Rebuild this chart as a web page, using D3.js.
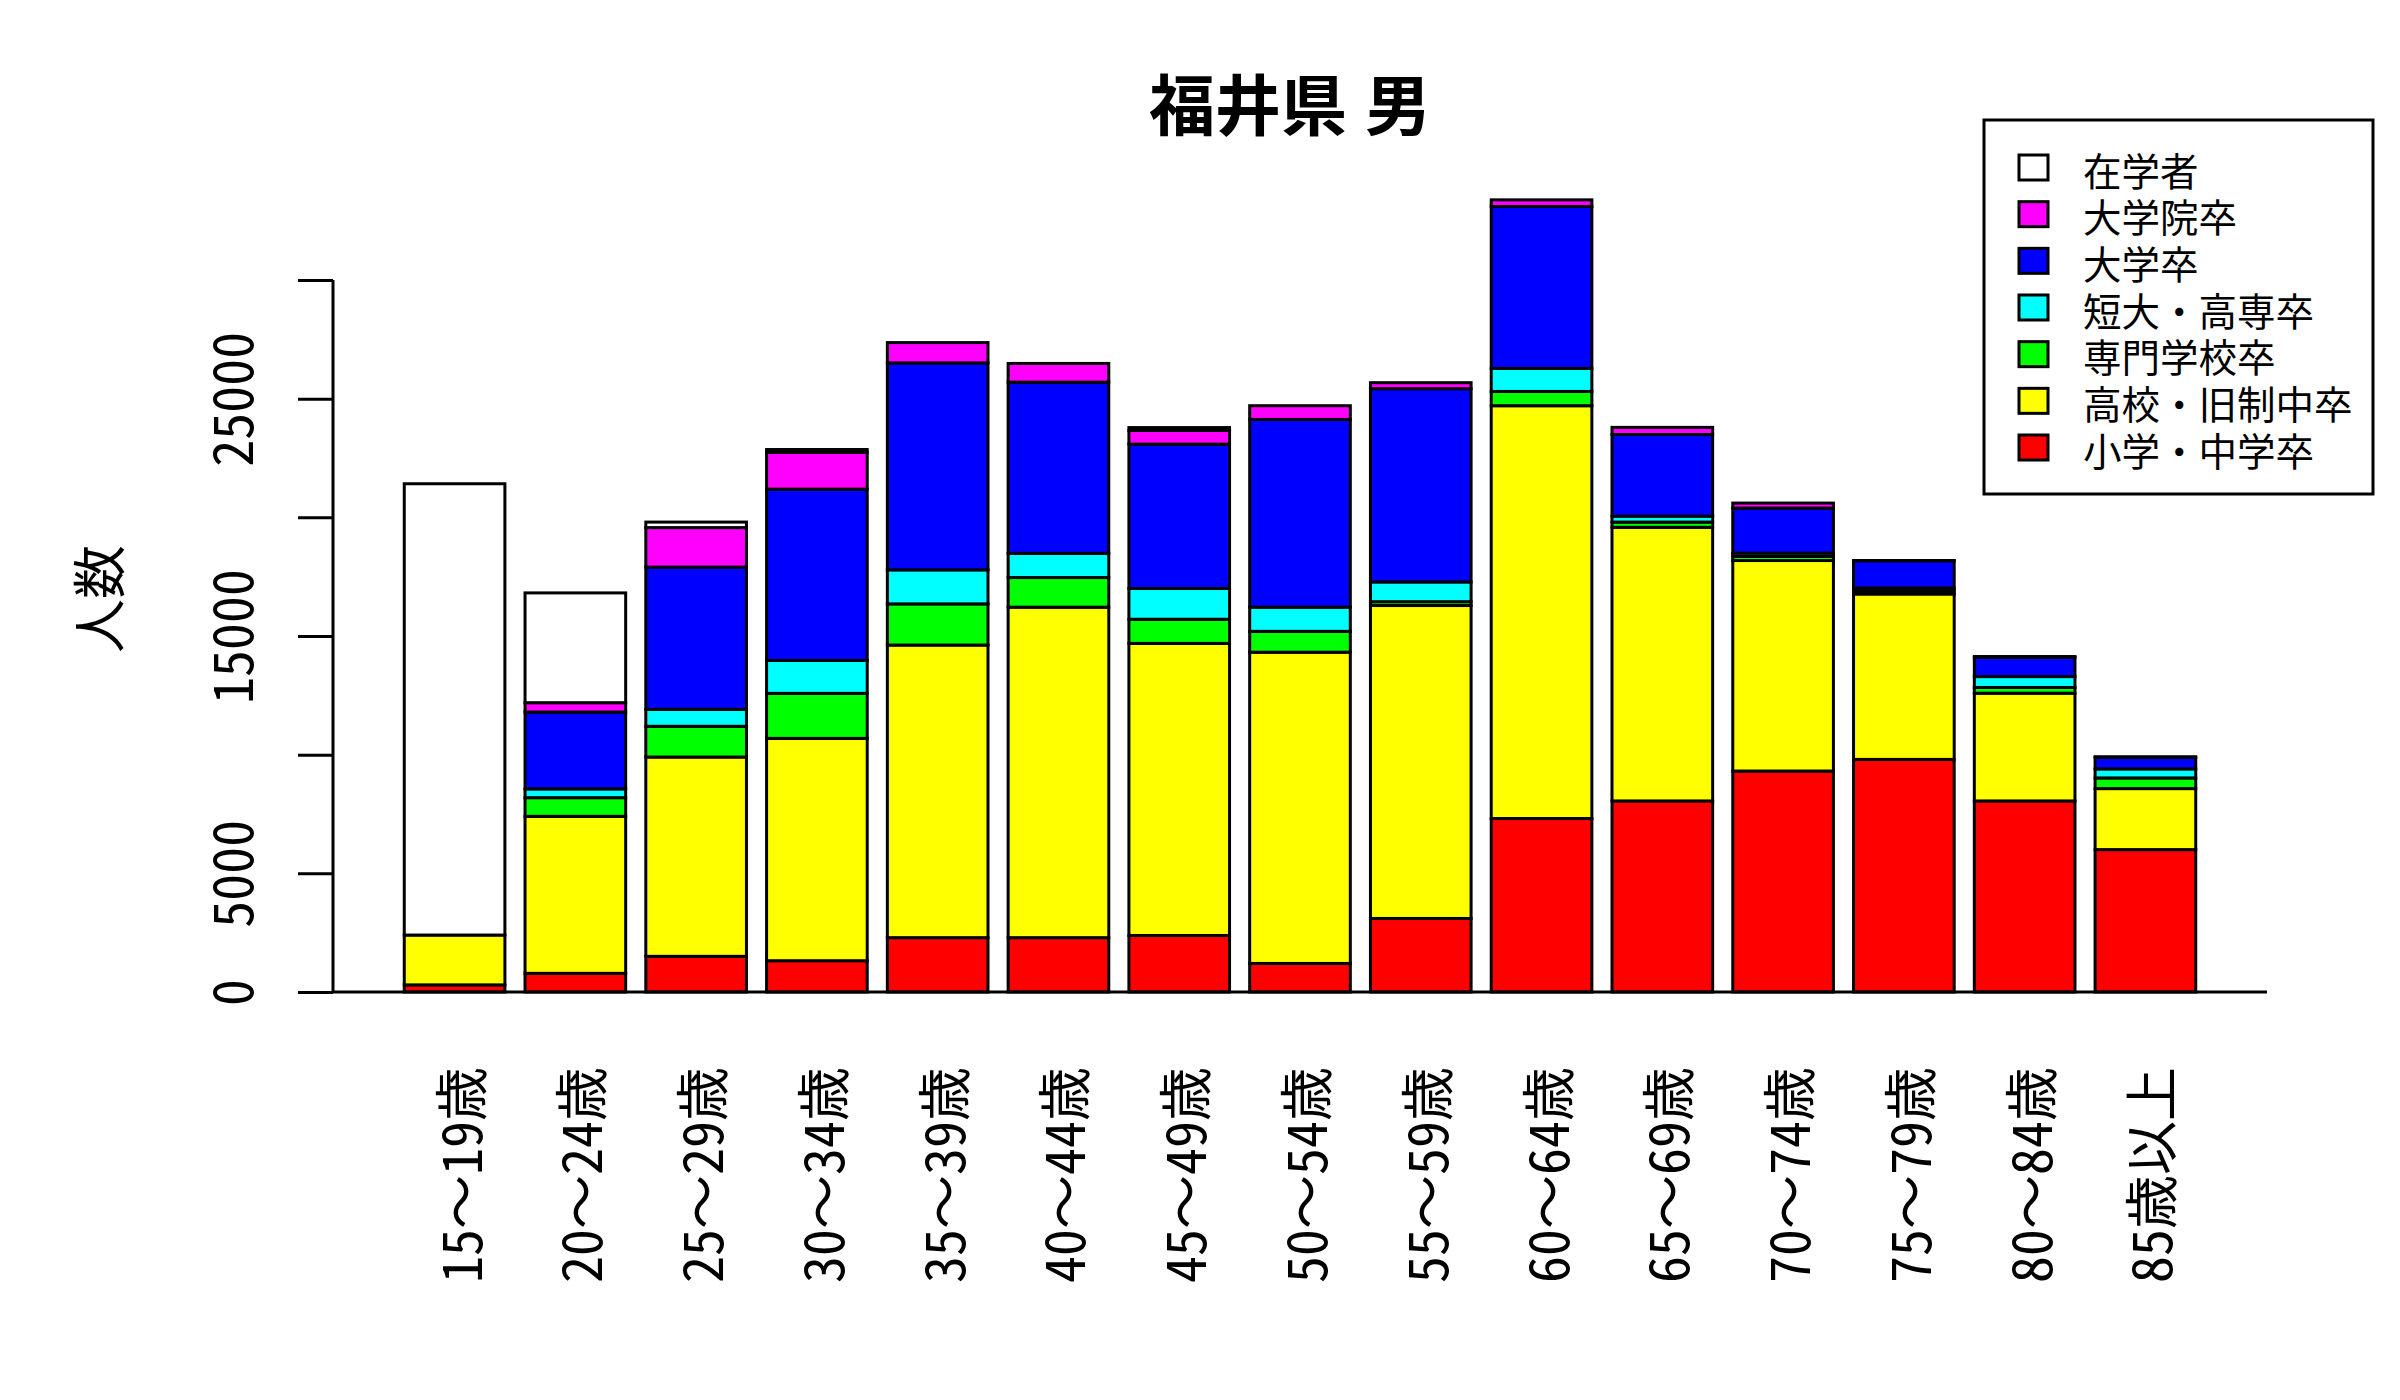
<!DOCTYPE html>
<html>
<head>
<meta charset="utf-8">
<script src="https://cdn.jsdelivr.net/npm/d3@7"></script>
<style>
  html, body { margin: 0; padding: 0; background: #fff; }
  svg { display: block; }
  text { font-family: "Noto Sans CJK JP", "Noto Sans CJK SC", sans-serif; font-feature-settings: "hwid"; }
  tspan.fw { font-feature-settings: normal; }
</style>
</head>
<body>
<div id="chart"></div>
<script>
// ---- data ----
const categories = ["15～19歳","20～24歳","25～29歳","30～34歳","35～39歳","40～44歳","45～49歳",
                    "50～54歳","55～59歳","60～64歳","65～69歳","70～74歳","75～79歳","80～84歳","85歳以上"];
// series in stacking order (bottom to top)
const seriesNames = ["小学・中学卒","高校・旧制中卒","専門学校卒","短大・高専卒","大学卒","大学院卒","在学者"];
const seriesColors = ["#ff0000","#ffff00","#00ff00","#00ffff","#0000ff","#ff00ff","#ffffff"];
const elementary = [300, 786, 1503, 1318, 2290, 2290, 2382, 1203, 3099, 7309, 8050, 9310, 9800, 8050, 6000];
const highSchool = [2100, 6616, 8397, 9368, 12328, 13924, 12306, 13114, 13185, 17394, 11530, 8870, 6970, 4540, 2570];
const vocational = [0, 786, 1295, 1897, 1735, 1249, 1017, 879, 161, 601, 220, 170, 120, 240, 450];
const juniorCollege = [0, 370, 717, 1388, 1434, 1018, 1296, 1018, 833, 972, 250, 140, 130, 460, 380];
const university = [0, 3238, 5991, 7216, 8720, 7216, 6083, 7911, 8142, 6823, 3440, 1900, 1150, 815, 490];
const graduate = [0, 394, 1665, 1550, 856, 787, 578, 578, 254, 278, 300, 210, 10, 30, 20];
const students = [19015, 4626, 232, 120, 0, 0, 120, 0, 0, 0, 0, 0, 0, 0, 0];
const yTicks = [0, 5000, 10000, 15000, 20000, 25000, 30000];
const yTickLabels = ["0", "5000", "", "15000", "", "25000", ""];
const title = "福井県 男";
const yLabel = "人数";

const seriesValues = [elementary, highSchool, vocational, juniorCollege, university, graduate, students];

// ---- layout ----
const W = 2400, H = 1400;
const plotL = 333, plotR = 2267;
const svg = d3.select("#chart").append("svg").attr("width", W).attr("height", H);

const x = d3.scaleBand().domain(categories).range([plotL, plotR])
  .paddingInner(0.2 / 1.2).paddingOuter(0.59);
const y = d3.scaleLinear().domain([0, 30000]).range([992, 280]);

const rows = categories.map((c, i) => {
  const o = { cat: c };
  seriesNames.forEach((s, k) => o[s] = seriesValues[k][i]);
  return o;
});
const stacked = d3.stack().keys(seriesNames)(rows);

// bars
const g = svg.append("g");
stacked.forEach((layer, k) => {
  g.selectAll(null).data(layer).enter().append("rect")
    .attr("x", d => x(d.data.cat))
    .attr("width", x.bandwidth())
    .attr("y", d => y(d[1]))
    .attr("height", d => y(d[0]) - y(d[1]))
    .attr("fill", seriesColors[k])
    .attr("stroke", "#000")
    .attr("stroke-width", 3);
});

// baseline
svg.append("line").attr("x1", plotL).attr("x2", plotR)
  .attr("y1", y(0)).attr("y2", y(0)).attr("stroke", "#000").attr("stroke-width", 3);

// y axis
const yAxis = d3.axisLeft(y).tickValues(yTicks).tickSize(35).tickPadding(0)
  .tickFormat((d, i) => yTickLabels[i]);
const ya = svg.append("g").attr("transform", `translate(${plotL},0)`).call(yAxis);
ya.select(".domain").attr("stroke", "#000").attr("stroke-width", 3).attr("d", `M0,${y(0)}V${y(30000)}`);
ya.selectAll(".tick line").attr("stroke", "#000").attr("stroke-width", 3);
ya.selectAll(".tick text")
  .attr("font-size", 54).attr("fill", "#000")
  .attr("text-anchor", "middle")
  .attr("x", null).attr("dy", null)
  .attr("transform", "translate(-80,0) rotate(-90)")
  .attr("y", 0);

// x labels (full-width tilde kept full width)
const xa = svg.append("g");
xa.selectAll("text").data(categories).enter().append("text")
  .attr("transform", d => `translate(${x(d) + x.bandwidth() / 2 + 27},1067) rotate(-90)`)
  .attr("text-anchor", "end")
  .attr("font-size", 54)
  .attr("fill", "#000")
  .each(function (d) {
    const t = d3.select(this);
    const parts = d.split("～");
    parts.forEach((p, i) => {
      if (i > 0) t.append("tspan").attr("class", "fw").text("～");
      t.append("tspan").text(p);
    });
  });

// title
svg.append("text").attr("x", (plotL + plotR) / 2 - 10).attr("y", 130)
  .attr("text-anchor", "middle").attr("font-size", 66).attr("font-weight", "bold")
  .attr("word-spacing", -15)
  .text(title);

// y label
svg.append("text").attr("transform", "translate(120,599) rotate(-90)")
  .attr("text-anchor", "middle").attr("font-size", 54).text(yLabel);

// legend
const lg = svg.append("g");
lg.append("rect").attr("x", 1984).attr("y", 120).attr("width", 389).attr("height", 374)
  .attr("fill", "#fff").attr("stroke", "#000").attr("stroke-width", 3);
const legendOrder = seriesNames.map((s, k) => ({ name: s, color: seriesColors[k] })).reverse();
const rowY = d3.scaleLinear().domain([0, 6]).range([167.5, 447.5]);
legendOrder.forEach((d, i) => {
  lg.append("rect").attr("x", 2019).attr("y", rowY(i) - 12.5).attr("width", 29).attr("height", 25)
    .attr("fill", d.color).attr("stroke", "#000").attr("stroke-width", 3);
  lg.append("text").attr("x", 2083).attr("y", rowY(i) + 18)
    .attr("font-size", 38.5).attr("fill", "#000").text(d.name);
});
</script>
</body>
</html>
